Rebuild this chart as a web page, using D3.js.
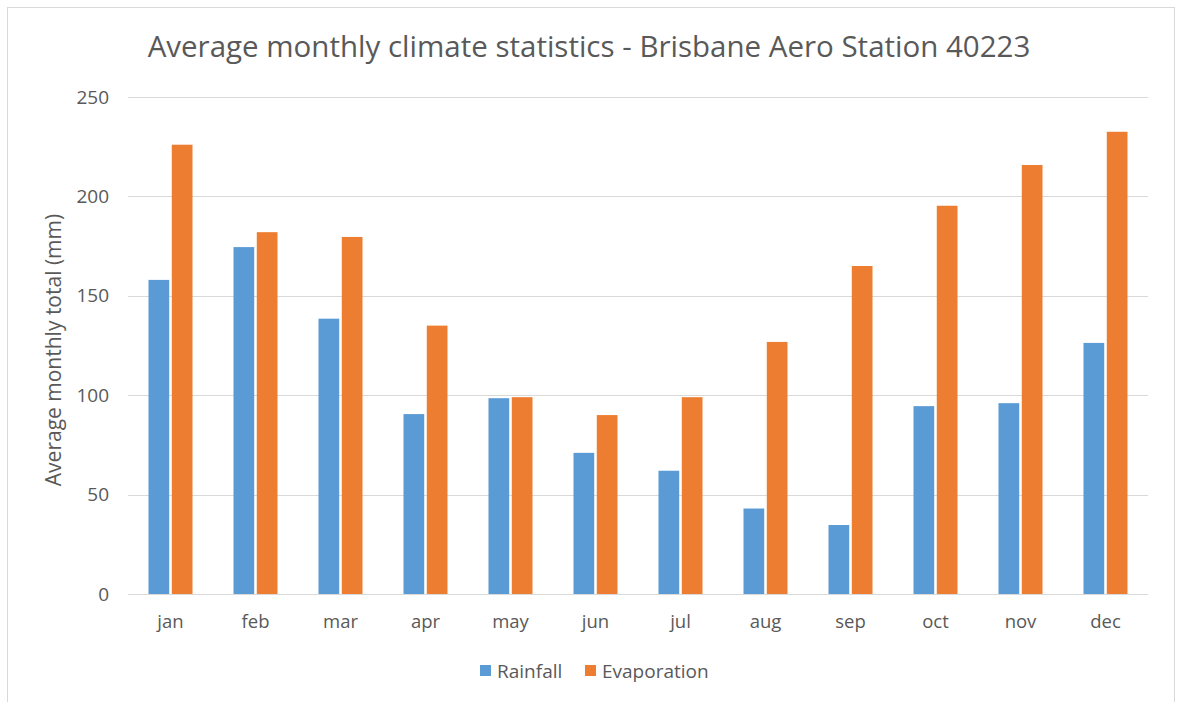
<!DOCTYPE html>
<html>
<head>
<meta charset="utf-8">
<script src="https://cdn.jsdelivr.net/npm/d3@7"></script>
<style>
  body { margin: 0; background: #fff; }
  svg text { font-family: "Open Sans", "Noto Sans", sans-serif; fill: #595959; }
</style>
</head>
<body>
<svg id="chart" width="1179" height="702"></svg>
<script>
// chart data
var months = ['jan', 'feb', 'mar', 'apr', 'may', 'jun', 'jul', 'aug', 'sep', 'oct', 'nov', 'dec'];
var rainfall = [158, 174.5, 138.5, 90.5, 98.5, 71, 62, 43, 34.7, 94.5, 96, 126.3];
var evaporation = [226, 182, 179.6, 135, 99, 90, 99, 126.8, 165, 195.3, 215.8, 232.5];
var yTicks = [0, 50, 100, 150, 200, 250];
var seriesNames = ['Rainfall', 'Evaporation'];
var colors = ['#5b9bd5', '#ed7d31'];

var svg = d3.select('#chart');
var plot = {left: 128, right: 1148, top: 97, bottom: 594};

// outer chart border
svg.append('rect')
    .attr('x', 7.5).attr('y', 7.5)
    .attr('width', 1167).attr('height', 720)
    .attr('fill', 'none')
    .attr('stroke', '#d9d9d9');

var x = d3.scaleBand()
    .domain(months)
    .range([plot.left, plot.right]);

var y = d3.scaleLinear()
    .domain([0, 250])
    .range([plot.bottom, plot.top]);

// gridlines
svg.append('g')
    .selectAll('line')
    .data(yTicks)
    .enter()
    .append('line')
    .attr('x1', plot.left).attr('x2', plot.right)
    .attr('y1', function(d){ return Math.round(y(d)) + 0.5; })
    .attr('y2', function(d){ return Math.round(y(d)) + 0.5; })
    .attr('stroke', '#d9d9d9')
    .attr('stroke-width', 1);

// y tick labels
svg.append('g')
    .selectAll('text')
    .data(yTicks)
    .enter()
    .append('text')
    .attr('x', 109)
    .attr('y', function(d){ return y(d); })
    .attr('dy', '0.35em')
    .attr('text-anchor', 'end')
    .style('font-size', '19px')
    .text(function(d){ return d; });

// month labels
svg.append('g')
    .selectAll('text')
    .data(months)
    .enter()
    .append('text')
    .attr('x', function(d){ return x(d) + x.bandwidth() / 2; })
    .attr('y', 628)
    .attr('text-anchor', 'middle')
    .style('font-size', '18.5px')
    .text(function(d){ return d; });

// bars: inner band for the two series within each month
var inner = d3.scaleBand()
    .domain([0, 1])
    .range([x.bandwidth() / 2 - 22, x.bandwidth() / 2 + 22])
    .paddingInner(0.11);

var groups = svg.append('g')
    .selectAll('g')
    .data(months)
    .enter()
    .append('g')
    .attr('transform', function(d){ return 'translate(' + x(d) + ',0)'; });

groups.selectAll('rect')
    .data(function(d, i){ return [rainfall[i], evaporation[i]]; })
    .enter()
    .append('rect')
    .attr('x', function(d, i){ return inner(i); })
    .attr('width', inner.bandwidth())
    .attr('y', function(d){ return y(d); })
    .attr('height', function(d){ return y(0) - y(d); })
    .attr('fill', function(d, i){ return colors[i]; });

// title
svg.append('text')
    .attr('x', 589)
    .attr('y', 57)
    .attr('text-anchor', 'middle')
    .style('font-size', '29.5px')
    .text('Average monthly climate statistics - Brisbane Aero Station 40223');

// y axis title
svg.append('text')
    .attr('transform', 'translate(61,350) rotate(-90)')
    .attr('text-anchor', 'middle')
    .style('font-size', '21px')
    .text('Average monthly total (mm)');

// legend
var legendX = [480, 585];
var legend = svg.append('g')
    .selectAll('g')
    .data(seriesNames)
    .enter()
    .append('g')
    .attr('transform', function(d, i){ return 'translate(' + legendX[i] + ',665)'; });

legend.append('rect')
    .attr('width', 11).attr('height', 11)
    .attr('fill', function(d, i){ return colors[i]; });

legend.append('text')
    .attr('x', 17)
    .attr('y', 6)
    .attr('dy', '0.35em')
    .style('font-size', '19px')
    .text(function(d){ return d; });
</script>
</body>
</html>
